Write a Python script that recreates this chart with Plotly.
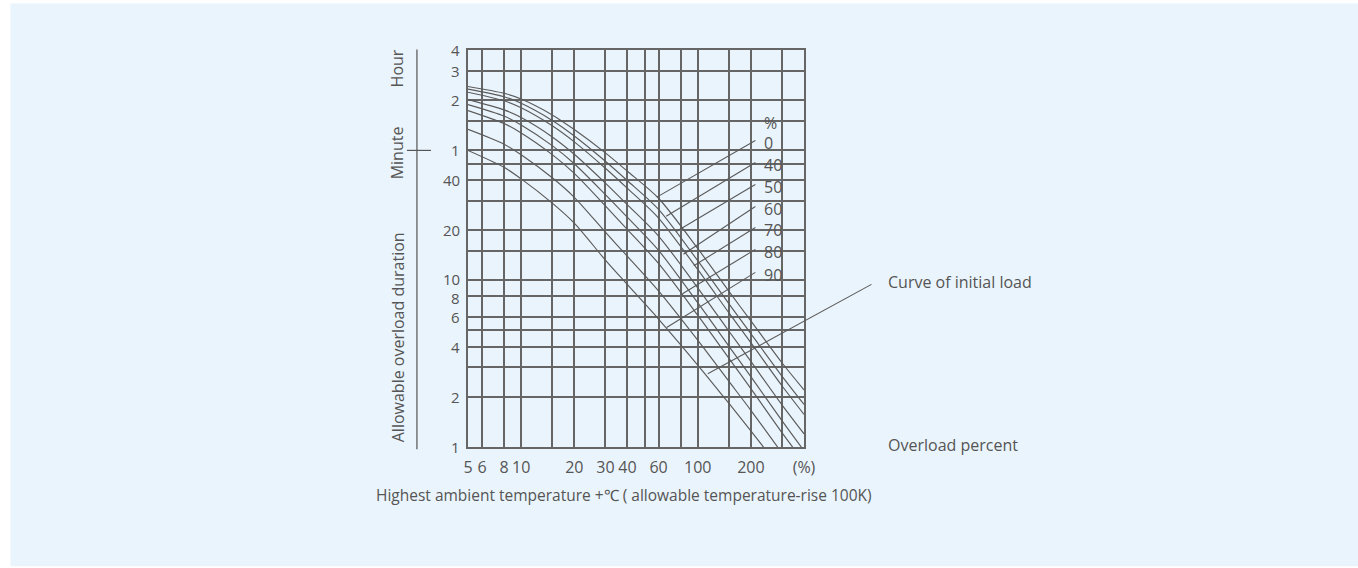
import math
import plotly.graph_objects as go

# ---------------- data ----------------
overload_pct = [5, 8, 10, 15, 20, 30, 40, 60, 100, 150, 200, 300, 400]
curve_0 = [145, 132, 122, 98, 80, 58, 45, 31, 15.5, 8.6, 5.7, 3.2, 2.2]
curve_40 = [140, 126, 115, 90.8, 73.3, 51.7, 39.5, 26.6, 13.1, 7.24, 4.78, 2.66, 1.80]
curve_50 = [134, 119, 108, 84.3, 67.5, 46.9, 35.5, 23.6, 11.6, 6.39, 4.22, 2.33, 1.57]
curve_60 = [121, 105, 94.4, 72.3, 56.9, 38.2, 28.3, 18.4, 9.0, 4.96, 3.26, 1.79, 1.20]
curve_70 = [113, 96.4, 85.3, 64.1, 49.9, 32.6, 23.8, 15.1, 7.33, 4.03, 2.64, 1.44, 0.95]
curve_80 = [104, 86.9, 76.4, 56.6, 43.7, 27.9, 20.1, 12.6, 6.17, 3.41, 2.24, 1.22, 0.81]
curve_90 = [80.2, 65.4, 56.5, 41.1, 31.4, 19.4, 13.9, 8.63, 4.37, 2.48, 1.66, 0.92, None]
curve_init = [60, 47.5, 40.5, 29, 22, 13.2, 9.4, 5.85, 3.1, 1.83, 1.25, 0.72, None]
curves = [curve_0, curve_40, curve_50, curve_60, curve_70, curve_80, curve_90, curve_init]

# grid / tick positions (x in %, y in minutes) and their labels ("" = grid line only)
x_tickvals = [5, 6, 8, 10, 15, 20, 30, 40, 50, 60, 80, 100, 150, 200, 300, 400]
x_ticktext = ["5", "6", "8", "10", "", "20", "30", "40", "", "60", "", "100", "", "200", "", "(%)"]
y_gridvals = [1, 2, 3, 4, 5, 6, 8, 10, 15, 20, 30, 40, 50, 60, 90, 120, 180, 240]
y_labelvals = [1, 2, 4, 6, 8, 10, 20, 40, 60, 120, 180, 240]
y_labeltext = ["1", "2", "4", "6", "8", "10", "20", "40", "1", "2", "3", "4"]

# curve labels (initial load %) and the curve points their leaders touch
label_texts = ["0", "40", "50", "60", "70", "80", "90"]
leader_ends = [(59, 31.6), (66.3, 24.2), (75.5, 19.6), (83, 14.3), (95, 12.2), (82, 8.3), (66.7, 5.2)]
init_leader_end = (114, 2.75)

# ---------------- layout constants ----------------
W, H = 1358, 568
L, R, T, B = 468, 803.6, 49.5, 446.7
XR = [math.log10(5), math.log10(400)]
YR = [0, math.log10(240)]
TXT = "#555555"
GRID = "#666666"
BG = "#EAF4FC"
FONT = "Open Sans"
FS = 16


def px(xp):
    return (xp - L) / (R - L)


def py(yp):
    return (B - yp) / (B - T)


def dx(v):
    return (math.log10(v) - XR[0]) / (XR[1] - XR[0])


def dy(v):
    return (math.log10(v) - YR[0]) / (YR[1] - YR[0])


fig = go.Figure()
for c in curves:
    fig.add_trace(go.Scatter(x=overload_pct, y=c, mode="lines",
                             line=dict(color="#5a5a5a", width=1.15, shape="spline", smoothing=0.8),
                             showlegend=False, hoverinfo="skip", connectgaps=False))

shapes = []
# panel background
shapes.append(dict(type="rect", xref="paper", yref="paper", x0=px(11), x1=px(1362), y0=py(566), y1=py(3),
                   fillcolor=BG, line=dict(width=0), layer="below"))
# separator line for y-axis titles
shapes.append(dict(type="line", xref="paper", yref="paper", x0=px(417), x1=px(417), y0=py(49), y1=py(449),
                   line=dict(color=TXT, width=1.2)))
shapes.append(dict(type="line", xref="paper", yref="paper", x0=px(407), x1=px(431), y0=dy(60), y1=dy(60),
                   line=dict(color=TXT, width=1.2)))

annotations = []
# y tick labels (small nudges keep "10" and "8" apart, as in the reference)
nudge = {10: 1.5, 8: -1.5}
for v, t in zip(y_labelvals, y_labeltext):
    annotations.append(dict(text=t, x=px(462), xref="paper", y=math.log10(v), yref="y", xanchor="right",
                            yanchor="middle", yshift=nudge.get(v, 0), showarrow=False,
                            font=dict(size=15, color=TXT, family=FONT)))

label_y = [143, 165, 187, 209, 230, 252, 275]
annotations.append(dict(text="%", x=px(762), y=py(123), xref="paper", yref="paper", xanchor="left",
                        yanchor="middle", showarrow=False, font=dict(size=FS, color=TXT, family=FONT)))
for t, yl, (ex, ey) in zip(label_texts, label_y, leader_ends):
    annotations.append(dict(text=t, x=px(762), y=py(yl), xref="paper", yref="paper", xanchor="left",
                            yanchor="middle", showarrow=False, font=dict(size=FS, color=TXT, family=FONT)))
    shapes.append(dict(type="line", xref="paper", yref="paper", x0=px(755), y0=py(yl - 3), x1=dx(ex), y1=dy(ey),
                       line=dict(color="#5a5a5a", width=1.1)))

shapes.append(dict(type="line", xref="paper", yref="paper", x0=px(871), y0=py(284),
                   x1=dx(init_leader_end[0]), y1=dy(init_leader_end[1]), line=dict(color="#5a5a5a", width=1.1)))
annotations.append(dict(text="Curve of initial load", x=px(886), y=py(282), xref="paper", yref="paper",
                        xanchor="left", yanchor="middle", showarrow=False, font=dict(size=FS, color=TXT, family=FONT)))
annotations.append(dict(text="Overload percent", x=px(886), y=py(445), xref="paper", yref="paper",
                        xanchor="left", yanchor="middle", showarrow=False, font=dict(size=FS, color=TXT, family=FONT)))
annotations.append(dict(text="Highest ambient temperature +℃ ( allowable temperature-rise 100K)", x=px(624),
                        y=py(495), xref="paper", yref="paper", xanchor="center", yanchor="middle", showarrow=False,
                        font=dict(size=15.5, color=TXT, family=FONT)))
for txt, yc in [("Hour", 68), ("Minute", 152), ("Allowable overload duration", 337)]:
    annotations.append(dict(text=txt, x=px(398), y=py(yc), xref="paper", yref="paper", xanchor="center",
                            yanchor="middle", textangle=-90, showarrow=False,
                            font=dict(size=FS, color=TXT, family=FONT)))

axis_common = dict(showgrid=True, gridcolor=GRID, gridwidth=2, showline=True, linecolor=GRID, linewidth=2,
                   mirror=True, ticks="", zeroline=False, tickmode="array")
fig.update_layout(
    width=W, height=H,
    margin=dict(l=L, r=W - R, t=T, b=H - B, pad=0),
    paper_bgcolor="white", plot_bgcolor=BG,
    xaxis=dict(type="log", range=XR, tickvals=x_tickvals, ticktext=x_ticktext,
               ticklabelstandoff=5, tickfont=dict(size=FS, color=TXT, family=FONT), **axis_common),
    yaxis=dict(type="log", range=YR, tickvals=y_gridvals, showticklabels=False, **axis_common),
    shapes=shapes, annotations=annotations, font=dict(family=FONT, color=TXT),
)
fig.write_html("out.html", config={"displayModeBar": False, "staticPlot": True},
               post_script="document.body.style.margin='0';document.body.style.overflow='hidden';")
